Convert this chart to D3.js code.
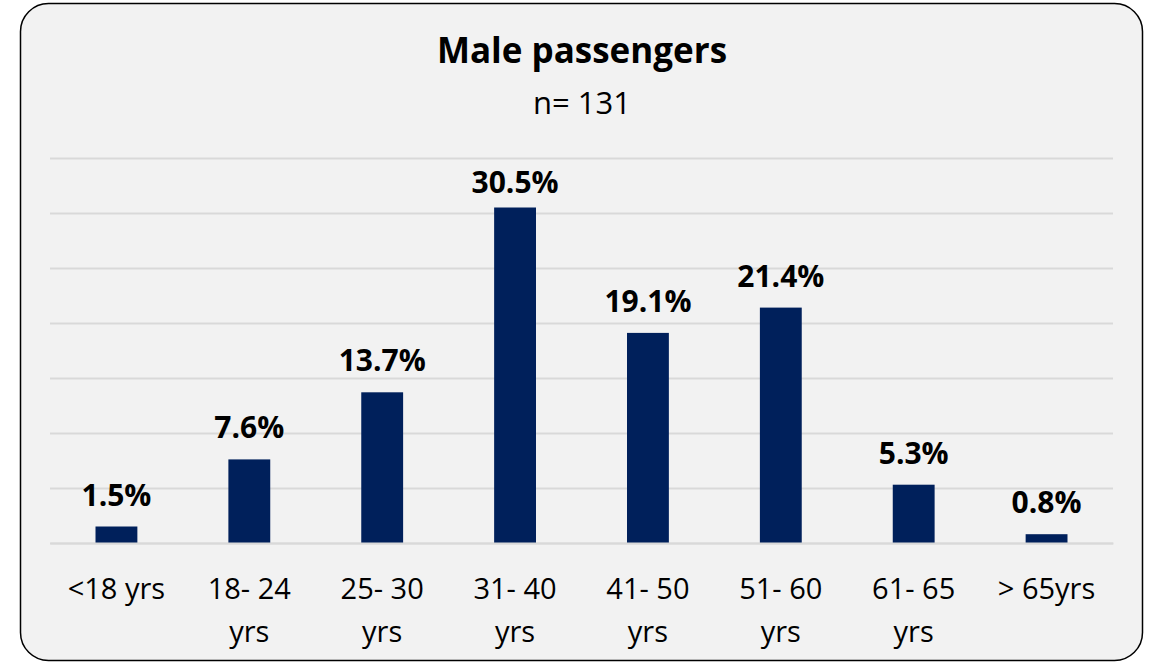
<!DOCTYPE html>
<html>
<head>
<meta charset="utf-8">
<script src="https://cdn.jsdelivr.net/npm/d3@7"></script>
<style>
  html, body { margin: 0; padding: 0; background: #ffffff; }
  svg { display: block; }
  text { font-family: "Open Sans", "Noto Sans", sans-serif; fill: #000; }
</style>
</head>
<body>
<svg id="chart" width="1152" height="663"></svg>
<script>
// Age groups of male passengers and their share (%)
const categories = [["<18 yrs"], ["18- 24", "yrs"], ["25- 30", "yrs"], ["31- 40", "yrs"],
                    ["41- 50", "yrs"], ["51- 60", "yrs"], ["61- 65", "yrs"], ["> 65yrs"]];
const shares = [1.5, 7.6, 13.7, 30.5, 19.1, 21.4, 5.3, 0.8];
const gridTicks = [0, 5, 10, 15, 20, 25, 30, 35];
const titleText = "Male passengers";
const subtitleText = "n= 131";

const svg = d3.select("#chart");
const W = 1152, H = 663;

// Card background with rounded border
svg.append("rect")
  .attr("x", 20.5).attr("y", 3.5)
  .attr("width", 1122).attr("height", 657)
  .attr("rx", 28).attr("ry", 28)
  .attr("fill", "#f2f2f2")
  .attr("stroke", "#000").attr("stroke-width", 1.5);

const margin = { left: 50, right: 39, top: 158, bottom: 120 };
const plotW = W - margin.left - margin.right;
const baseline = 543;

const x = d3.scaleBand()
  .domain(categories.map((d, i) => i))
  .range([margin.left, margin.left + plotW])
  .paddingInner(0.685)
  .paddingOuter(0.3425);

const y = d3.scaleLinear()
  .domain([0, 35])
  .range([baseline, margin.top]);

// Horizontal gridlines
const grid = svg.append("g")
  .attr("transform", `translate(${margin.left},0)`)
  .call(d3.axisLeft(y).tickValues(gridTicks).tickSize(-plotW).tickFormat(""));
grid.select(".domain").remove();
grid.selectAll(".tick line").attr("stroke", "#d9d9d9").attr("stroke-width", 2);

// Bars
svg.append("g").selectAll("rect")
  .data(shares)
  .join("rect")
  .attr("x", (d, i) => x(i))
  .attr("width", x.bandwidth())
  .attr("y", d => y(d))
  .attr("height", d => baseline - y(d))
  .attr("fill", "#00205b");

// Value labels, kept inside the plot area near the top
const labelTop = y(35) + 35;
svg.append("g").selectAll("text")
  .data(shares)
  .join("text")
  .attr("x", (d, i) => x(i) + x.bandwidth() / 2)
  .attr("y", d => Math.max(y(d) - 21, labelTop))
  .attr("text-anchor", "middle")
  .style("font-size", "30px")
  .style("font-weight", "bold")
  .text(d => d.toFixed(1) + "%");

// Category labels (wrapped onto two lines)
const xAxis = svg.append("g")
  .attr("transform", `translate(0,${baseline})`)
  .call(d3.axisBottom(x).tickSize(0).tickFormat(""));
xAxis.select(".domain").attr("stroke", "#d9d9d9").attr("stroke-width", 2);

const catLabels = svg.append("g").selectAll("text")
  .data(categories)
  .join("text")
  .attr("x", (d, i) => x(i) + x.bandwidth() / 2)
  .attr("y", 599)
  .attr("text-anchor", "middle")
  .style("font-size", "29px");
catLabels.selectAll("tspan")
  .data(d => d)
  .join("tspan")
  .attr("x", function () { return this.parentNode.getAttribute("x"); })
  .attr("dy", (d, i) => i === 0 ? 0 : 43)
  .text(d => d);

// Title and subtitle
svg.append("text")
  .attr("x", 582).attr("y", 63)
  .attr("text-anchor", "middle")
  .style("font-size", "35px").style("font-weight", "bold")
  .text(titleText);
svg.append("text")
  .attr("x", 582).attr("y", 114)
  .attr("text-anchor", "middle")
  .style("font-size", "31px")
  .text(subtitleText);
</script>
</body>
</html>
